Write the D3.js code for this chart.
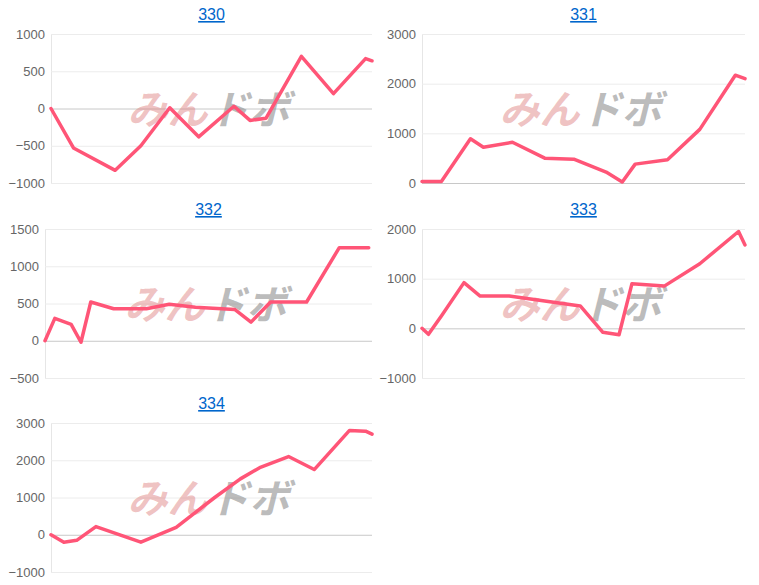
<!DOCTYPE html><html><head><meta charset="utf-8"><script src="https://cdn.jsdelivr.net/npm/d3@7"></script>
<style>body{margin:0;background:#fff;font-family:"Liberation Sans",Arial,sans-serif}</style></head><body><svg id="c" width="759" height="585"></svg>
<script>
const titles=["330","331","332","333","334"];
const xs330=[0,7,20,28,37,46,57,62,67,78,88,98,100];
const v330=[0,-530,-830,-500,10,-380,30,-160,-130,700,200,670,640];
const xs331=[0,6,15,19,28,38,47,57,62,66,76,86,97,100];
const v331=[30,30,890,720,820,500,480,220,20,380,470,1080,2170,2100];
const xs332=[0,3,8,11,14,21,31,38,46,58,63,69,80,90,99];
const v332=[0,300,220,-20,520,430,430,490,450,420,250,520,520,1250,1250];
const xs333=[0,2,6,13,18,27,38,49,56,61,65,75,86,98,100];
const v333=[0,-120,250,920,650,650,550,450,-80,-130,900,850,1300,1950,1680];
const xs334=[0,4,8,14,28,39,51,59,65,74,82,93,98,100];
const v334=[0,-200,-150,220,-200,200,1000,1500,1800,2100,1750,2800,2780,2700];
const ticks=[[-1000,-500,0,500,1000],[0,1000,2000,3000],[-500,0,500,1000,1500],[-1000,0,1000,2000],[-1000,0,1000,2000,3000]];
const panels=[
 {x0:51,x1:372,y0:34,y1:183,xs:xs330,v:v330},
 {x0:422,x1:745,y0:34,y1:183,xs:xs331,v:v331},
 {x0:45,x1:372,y0:229,y1:378,xs:xs332,v:v332},
 {x0:422,x1:745,y0:229,y1:378,xs:xs333,v:v333},
 {x0:51,x1:372,y0:423,y1:572,xs:xs334,v:v334}];
const svg=d3.select("#c");
panels.forEach((p,i)=>{
 const t=ticks[i];
 const x=d3.scaleLinear().domain([0,100]).range([p.x0,p.x1]);
 const y=d3.scaleLinear().domain([t[0],t[t.length-1]]).range([p.y1,p.y0]);
 const g=svg.append("g");
 g.append("text").attr("x",(p.x0+p.x1)/2).attr("y",p.y0-14).attr("text-anchor","middle").attr("fill","#0066cc").attr("font-size",16).attr("text-decoration","underline").text(titles[i]);
 const ax=g.append("g").attr("transform",`translate(${p.x0},0)`).call(d3.axisLeft(y).tickValues(t).tickSize(-(p.x1-p.x0)).tickPadding(6).tickFormat(d3.format("d")));
 ax.select(".domain").attr("stroke","#e6e6e6");
 ax.selectAll(".tick line").attr("stroke",d=>d===0?"#c8c8c8":"#ececec");
 ax.selectAll("text").attr("fill","#666").attr("font-size",13).attr("font-family","'Liberation Sans',Arial,sans-serif");
 const cx=(p.x0+p.x1)/2, cy=(p.y0+p.y1)/2+2;
 g.append("text").attr("x",cx-4).attr("y",cy+13).attr("text-anchor","end").attr("font-size",40).attr("font-weight","bold").attr("font-style","italic").attr("fill","rgba(220,120,120,0.45)").attr("font-family","Noto Sans CJK JP").text("みん");
 g.append("text").attr("x",cx-2).attr("y",cy+13).attr("text-anchor","start").attr("font-size",40).attr("font-weight","bold").attr("font-style","italic").attr("fill","rgba(130,130,130,0.55)").attr("font-family","Noto Sans CJK JP").text("ドボ");
 g.append("path").datum(p.xs.map((d,k)=>[d,p.v[k]])).attr("fill","none").attr("stroke","#ff5577").attr("stroke-width",3.5).attr("stroke-linejoin","round").attr("stroke-linecap","round")
  .attr("d",d3.line().x(d=>x(d[0])).y(d=>y(d[1])));
});
</script></body></html>
